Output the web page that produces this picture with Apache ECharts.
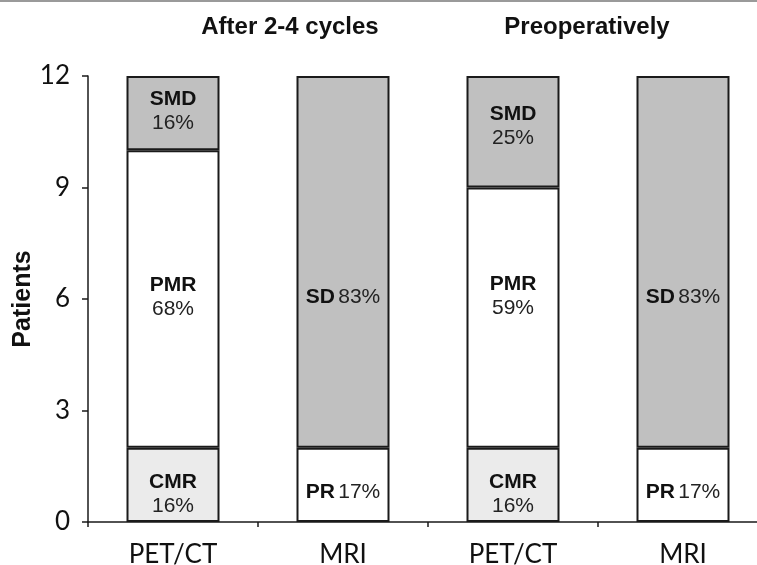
<!DOCTYPE html>
<html lang="en">
<head>
    <meta charset="UTF-8">
    <title>PET/CT vs MRI response</title>
    <script src="https://cdn.jsdelivr.net/npm/echarts@6/dist/echarts.min.js"></script>
    <style>
        html, body { margin: 0; padding: 0; background: #fff; }
    </style>
</head>
<body>
<div id="main" style="width: 757px;height:565px;"></div>
<script>
    // data
    var categories = ['PET/CT', 'MRI', 'PET/CT', 'MRI'];
    var groupTitles = ['After 2-4 cycles', 'Preoperatively'];
    var yTicks = [0, 3, 6, 9, 12];

    var lowValues = [2, 2, 2, 2];       // CMR / PR
    var midValues = [8, '-', 7, '-'];   // PMR
    var topValues = [2, 10, 3, 10];     // SMD / SD

    var lowNames = ['CMR', 'PR', 'CMR', 'PR'];
    var lowPct = ['16%', '17%', '16%', '17%'];
    var midNames = ['PMR', '', 'PMR', ''];
    var midPct = ['68%', '', '59%', ''];
    var topNames = ['SMD', 'SD', 'SMD', 'SD'];
    var topPct = ['16%', '83%', '25%', '83%'];

    var lowOffset = [9, 7, 9, 7];
    var midOffset = [-2, 0, -21, 0];
    var topOffset = [-2, 35, -6, 35];

    var labelRich = {
        b: { fontFamily: 'Liberation Sans', fontWeight: 'bold', fontSize: 21, color: '#111', lineHeight: 24 },
        n: { fontFamily: 'Liberation Sans', fontSize: 21, color: '#222', lineHeight: 24 }
    };

    function buildData(values, names, pcts, offsets, colorFn) {
        return values.map(function (v, i) {
            var twoLine = categories[i] === 'PET/CT';
            return {
                value: v,
                itemStyle: { color: colorFn(i) },
                label: {
                    show: names[i] !== '',
                    position: 'inside',
                    offset: [0, offsets[i]],
                    formatter: '{b|' + names[i] + '}' + (twoLine ? '\n' : ' ') + '{n|' + pcts[i] + '}',
                    rich: labelRich
                }
            };
        });
    }

    var itemBase = { borderColor: '#1a1a1a', borderWidth: 2 };

    var myChart = echarts.init(document.getElementById('main'));
    myChart.setOption({
        animation: false,
        grid: { left: 88, top: 76, width: 680, height: 446, outerBoundsMode: 'none', containLabel: false },
        xAxis: {
            type: 'category',
            data: categories,
            axisLine: { lineStyle: { color: '#1a1a1a', width: 1.5 } },
            axisTick: { show: true, length: 5, lineStyle: { color: '#1a1a1a', width: 1.5 } },
            axisLabel: { color: '#111', fontFamily: 'Lato', fontSize: 26, margin: 20 }
        },
        yAxis: {
            type: 'value',
            name: 'Patients',
            nameLocation: 'middle',
            nameGap: 52,
            nameMoveOverlap: false,
            nameRotate: 90,
            nameTextStyle: { color: '#111', fontFamily: 'Liberation Sans', fontWeight: 'bold', fontSize: 25 },
            min: yTicks[0],
            max: yTicks[yTicks.length - 1],
            interval: 3,
            splitLine: { show: false },
            axisLine: { show: true, lineStyle: { color: '#1a1a1a', width: 1.5 } },
            axisTick: { show: true, length: 6, lineStyle: { color: '#1a1a1a', width: 1.5 } },
            axisLabel: { color: '#111', fontFamily: 'Lato', fontSize: 26, margin: 18 }
        },
        series: [
            {
                type: 'bar', stack: 'total', barWidth: 93, itemStyle: itemBase,
                data: buildData(lowValues, lowNames, lowPct, lowOffset, function (i) {
                    return categories[i] === 'PET/CT' ? '#ebebeb' : '#ffffff';
                })
            },
            {
                type: 'bar', stack: 'total', barWidth: 93, itemStyle: itemBase,
                data: buildData(midValues, midNames, midPct, midOffset, function () { return '#ffffff'; })
            },
            {
                type: 'bar', stack: 'total', barWidth: 93, itemStyle: itemBase,
                data: buildData(topValues, topNames, topPct, topOffset, function () { return '#c0c0c0'; })
            }
        ],
        graphic: [
            { type: 'rect', left: 0, top: 0, shape: { width: 757, height: 2 }, style: { fill: '#9a9a9a' } },
            {
                type: 'text', x: 290, y: 27,
                style: { text: groupTitles[0], font: 'bold 24px "Liberation Sans"', fill: '#111', align: 'center', verticalAlign: 'middle' }
            },
            {
                type: 'text', x: 587, y: 27,
                style: { text: groupTitles[1], font: 'bold 24px "Liberation Sans"', fill: '#111', align: 'center', verticalAlign: 'middle' }
            }
        ]
    });
</script>
</body>
</html>
